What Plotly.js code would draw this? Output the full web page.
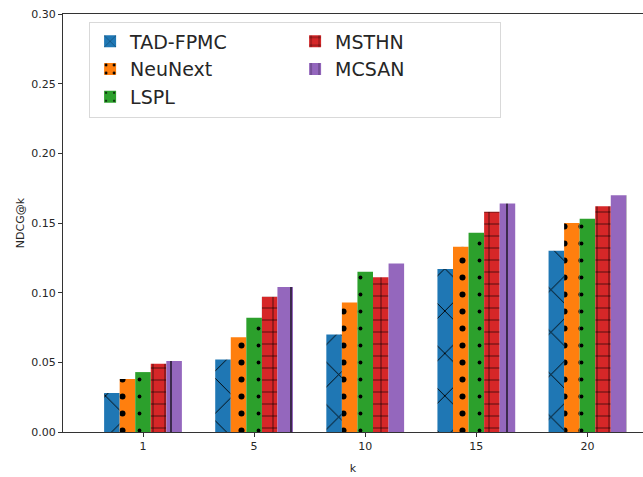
<!DOCTYPE html>
<html>
<head>
<meta charset="utf-8">
<script src="https://cdn.plot.ly/plotly-3.0.1.min.js"></script>
<style>html,body{margin:0;padding:0;background:#fff;}#chart{width:643px;height:477px;}</style>
</head>
<body>
<div id="chart"></div>
<script>
const categories = ["1", "5", "10", "15", "20"];
const seriesNames = ["TAD-FPMC", "NeuNext", "LSPL", "MSTHN", "MCSAN"];
const tadFpmc = [0.028, 0.052, 0.070, 0.117, 0.130];
const neuNext = [0.038, 0.068, 0.093, 0.133, 0.150];
const lspl    = [0.043, 0.082, 0.115, 0.143, 0.153];
const msthn   = [0.049, 0.097, 0.111, 0.158, 0.162];
const mcsan   = [0.051, 0.104, 0.121, 0.164, 0.170];
const yTicks = [0, 0.05, 0.10, 0.15, 0.20, 0.25, 0.30];

const values = [tadFpmc, neuNext, lspl, msthn, mcsan];
const colors = ["#1f77b4", "#ff7f0e", "#2ca02c", "#d62728", "#9467bd"];
const patterns = [
  {shape: "x", size: 30, solidity: 0.06},
  {shape: ".", size: 17, solidity: 0.1},
  {shape: ".", size: 17, solidity: 0.04},
  {shape: "+", size: 12, solidity: 0.1},
  {shape: "|", size: 24, solidity: 0.05}
];
const ranks = [1, 3, 5, 2, 4];

const traces = seriesNames.map((name, i) => ({
  type: "bar",
  name: name,
  x: categories,
  y: values[i],
  legendrank: ranks[i],
  marker: {
    color: colors[i],
    line: {width: 0},
    pattern: Object.assign({fgcolor: "#000", fgopacity: 1, fillmode: "overlay"}, patterns[i])
  }
}));

const layout = {
  width: 643, height: 477,
  margin: {l: 63, r: 0, t: 14, b: 45},
  paper_bgcolor: "#fff", plot_bgcolor: "#fff",
  font: {family: "DejaVu Sans", size: 11, color: "#262626"},
  barmode: "group", bargap: 0.3, bargroupgap: 0,
  showlegend: true,
  legend: {
    orientation: "h",
    x: 0.045, y: 0.982, xanchor: "left", yanchor: "top",
    bgcolor: "#fff", bordercolor: "#d9d9d9", borderwidth: 1,
    font: {family: "DejaVu Sans", size: 19, color: "#262626"},
    entrywidth: 160, entrywidthmode: "pixels",
    traceorder: "normal"
  },
  xaxis: {
    type: "category",
    range: [-0.72, 4.5],
    showline: true, linecolor: "#333", linewidth: 1, mirror: true,
    ticks: "outside", ticklen: 4, tickcolor: "#333",
    showgrid: false, zeroline: false,
    title: {text: "k", font: {size: 11}, standoff: 12}
  },
  yaxis: {
    range: [0, 0.30],
    tickvals: yTicks, tickformat: ".2f",
    showline: true, linecolor: "#333", linewidth: 1,
    ticks: "outside", ticklen: 4, tickcolor: "#333",
    showgrid: false, zeroline: false,
    title: {text: "NDCG@k", font: {size: 11}, standoff: 4}
  }
};

Plotly.newPlot("chart", traces, layout, {displayModeBar: false, staticPlot: true});
</script>
</body>
</html>
